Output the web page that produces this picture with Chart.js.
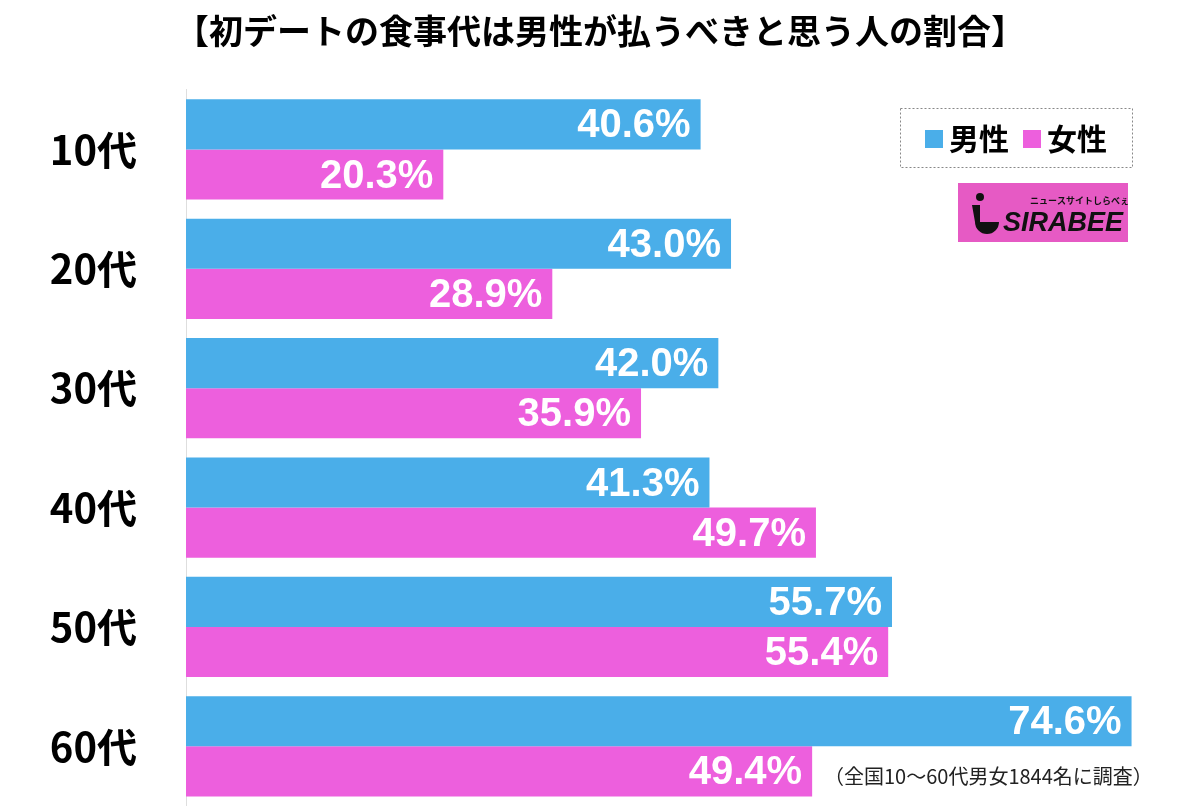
<!DOCTYPE html>
<html>
<head>
<meta charset="utf-8">
<script src="https://cdn.jsdelivr.net/npm/chart.js@4/dist/chart.umd.min.js"></script>
<style>
  html, body { margin: 0; padding: 0; background: #fff; }
  #wrap { width: 1200px; height: 806px; }
</style>
</head>
<body>
<div id="wrap"><canvas id="chart" width="1200" height="806"></canvas></div>
<script>
// Data
const ageGroups = ["10代", "20代", "30代", "40代", "50代", "60代"]
const maleValues = [40.6, 43.0, 42.0, 41.3, 55.7, 74.6]
const femaleValues = [20.3, 28.9, 35.9, 49.7, 55.4, 49.4]
const seriesNames = ["男性", "女性"]

const BLUE = "#4aaee9"
const PINK = "#ed5fdd"
const JP = "'Noto Sans CJK JP', 'Noto Sans', sans-serif"

// White percentage labels at the end of each bar
const valueLabels = {
  id: "valueLabels",
  afterDatasetsDraw(chart) {
    const ctx = chart.ctx
    ctx.save()
    ctx.font = "bold 40px 'Liberation Sans', Arial, sans-serif"
    ctx.fillStyle = "#fff"
    ctx.textAlign = "right"
    ctx.textBaseline = "middle"
    chart.data.datasets.forEach((ds, i) => {
      chart.getDatasetMeta(i).data.forEach((bar, j) => {
        ctx.fillText(ds.data[j].toFixed(1) + "%", bar.x - 10, bar.y + 2)
      })
    })
    ctx.restore()
  }
}

// Legend box, logo and footnote
const extras = {
  id: "extras",
  afterDraw(chart) {
    const ctx = chart.ctx
    ctx.save()

    // legend box
    ctx.setLineDash([2, 2])
    ctx.strokeStyle = "#888"
    ctx.lineWidth = 1
    ctx.strokeRect(900.5, 108.5, 232, 59)
    ctx.setLineDash([])
    ctx.font = "bold 30px " + JP
    ctx.textBaseline = "middle"
    ctx.textAlign = "left"
    ctx.fillStyle = BLUE
    ctx.fillRect(925, 130, 18, 18)
    ctx.fillStyle = "#000"
    ctx.fillText(seriesNames[0], 949, 139)
    ctx.fillStyle = PINK
    ctx.fillRect(1023, 130, 18, 18)
    ctx.fillStyle = "#000"
    ctx.fillText(seriesNames[1], 1047, 139)

    // logo
    ctx.fillStyle = "#e65ac4"
    ctx.fillRect(958, 183, 170, 59)
    ctx.fillStyle = "#111"
    ctx.font = "bold 9px " + JP
    ctx.fillText("ニュースサイトしらべぇ", 1030, 201)
    ctx.font = "italic bold 27px 'Liberation Sans Narrow', 'Liberation Sans', Arial, sans-serif"
    ctx.fillText("SIRABEE", 1003, 224)
    ctx.beginPath()
    ctx.arc(980, 197, 4, 0, Math.PI * 2)
    ctx.fill()
    ctx.beginPath()
    ctx.arc(987, 222, 12, 0, Math.PI)
    ctx.lineTo(972, 205)
    ctx.lineTo(980, 205)
    ctx.lineTo(980, 222)
    ctx.lineTo(999, 222)
    ctx.closePath()
    ctx.fill()

    // footnote
    ctx.fillStyle = "#222"
    ctx.font = "20px " + JP
    ctx.fillText("（全国10〜60代男女1844名に調査）", 824, 776)
    ctx.restore()
  }
}

new Chart(document.getElementById("chart"), {
  type: "bar",
  data: {
    labels: ageGroups,
    datasets: [
      { label: seriesNames[0], data: maleValues, backgroundColor: BLUE },
      { label: seriesNames[1], data: femaleValues, backgroundColor: PINK }
    ]
  },
  options: {
    indexAxis: "y",
    responsive: false,
    animation: false,
    layout: { padding: 0 },
    datasets: { bar: { categoryPercentage: 0.84, barPercentage: 1.0 } },
    scales: {
      x: { display: false, min: 0, max: 80 },
      y: {
        grid: { display: false },
        border: { display: true, color: "#dedede", width: 1 },
        ticks: {
          color: "#000",
          padding: 41,
          font: { family: JP, size: 40, weight: "bold" }
        },
        afterFit(scale) {
          scale.width = 186
          scale.paddingTop = 0
          scale.paddingBottom = 0
        }
      }
    },
    plugins: {
      legend: { display: false },
      tooltip: { enabled: false },
      title: {
        display: true,
        text: "【初デートの食事代は男性が払うべきと思う人の割合】",
        color: "#000",
        font: { family: JP, size: 34, weight: "bold" },
        padding: { top: 11, bottom: 38 }
      }
    }
  },
  plugins: [valueLabels, extras]
})
</script>
</body>
</html>
